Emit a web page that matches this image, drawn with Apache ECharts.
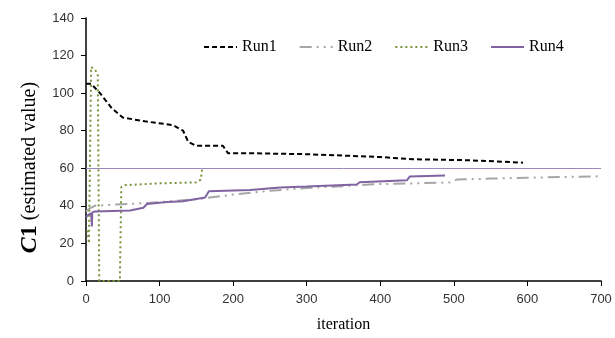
<!DOCTYPE html>
<html>
<head>
<meta charset="utf-8">
<script src="https://cdn.jsdelivr.net/npm/echarts@6/dist/echarts.min.js"></script>
<style>
  html, body { margin: 0; padding: 0; background: #fff; }
  #chart { width: 615px; height: 338px; }
</style>
</head>
<body>
<div id="chart"></div>
<script>
// [iteration, C1 estimate]
const run1 = [[0, 105], [7, 105], [19, 100], [35, 92], [50, 87], [80, 85], [118, 83], [132, 80], [139, 74], [150, 72], [186, 72], [193, 68], [223, 68], [300, 67.5], [400, 66], [444, 64.8], [520, 64.3], [594, 63]]
const run2 = [[0, 37], [5, 38.7], [12, 40], [30, 40.5], [60, 41], [100, 42], [150, 43.5], [200, 46], [250, 48], [300, 49.5], [350, 50.5], [390, 51.5], [450, 52], [495, 52.5], [504, 54], [550, 54.5], [600, 55], [696, 55.7]]
const run3 = [[2, 27], [4, 20], [6, 20], [7, 114], [9, 115], [13, 112], [16, 110], [18, 109], [18, 0], [46, 0], [48, 50], [53, 51], [100, 52], [150, 52.5], [156, 54], [158, 60]]
const run4 = [[0, 34], [4, 35.5], [7, 36], [8, 29], [8.5, 36.5], [12, 37], [60, 37.5], [78, 39], [83, 41], [110, 42], [132, 42.4], [162, 44.5], [167, 47.8], [223, 48.5], [264, 49.8], [300, 50.3], [368, 51.4], [372, 52.6], [436, 53.6], [440, 55.6], [488, 56.2]]
const refValue = 60
const seriesNames = ['Run1', 'Run2', 'Run3', 'Run4']

const chart = echarts.init(document.getElementById('chart'))
chart.setOption({
  animation: false,
  grid: { left: 86, right: 14, top: 18, bottom: 56 },
  legend: {
    data: seriesNames,
    left: 198,
    top: 34,
    itemWidth: 33,
    itemHeight: 10,
    itemGap: 22,
    itemStyle: { opacity: 0 },
    textStyle: { fontFamily: 'Liberation Serif', fontSize: 16, color: '#000' }
  },
  xAxis: {
    type: 'value',
    min: 0,
    max: 700,
    interval: 100,
    name: 'iteration',
    nameLocation: 'middle',
    nameGap: 36,
    nameTextStyle: { fontFamily: 'Liberation Serif', fontSize: 16, color: '#000' },
    axisLine: { lineStyle: { color: '#000', width: 1.5 } },
    axisTick: { length: 5, lineStyle: { color: '#000' } },
    axisLabel: { margin: 12, fontFamily: 'Liberation Sans', fontSize: 13, color: '#333' },
    splitLine: { show: false }
  },
  yAxis: {
    type: 'value',
    min: 0,
    max: 140,
    interval: 20,
    name: '{b|C}{c|1} (estimated value)',
    nameLocation: 'middle',
    nameGap: 39,
    nameTextStyle: {
      fontFamily: 'Liberation Serif', fontSize: 20, color: '#000',
      padding: [0, 36, 0, 0],
      rich: {
        b: { fontFamily: 'Liberation Serif', fontSize: 24, fontWeight: 'bold', fontStyle: 'italic', color: '#000' },
        c: { fontFamily: 'Liberation Serif', fontSize: 24, fontWeight: 'bold', color: '#000' }
      }
    },
    axisLine: { show: true, lineStyle: { color: '#000', width: 1.5 } },
    axisTick: { show: true, length: 5, lineStyle: { color: '#000' } },
    axisLabel: { margin: 12, fontFamily: 'Liberation Sans', fontSize: 13, color: '#333' },
    splitLine: { show: false }
  },
  series: [
    {
      name: 'Run1', type: 'line', data: run1, symbol: 'none',
      lineStyle: { color: '#000', width: 2, type: [5, 3] },
      itemStyle: { color: '#000' },
      markLine: {
        silent: true, symbol: 'none', label: { show: false },
        lineStyle: { color: '#9d88bd', width: 1, type: 'solid' },
        data: [{ yAxis: refValue }]
      }
    },
    {
      name: 'Run2', type: 'line', data: run2, symbol: 'none',
      lineStyle: { color: '#a6a6a6', width: 2, type: [12, 5, 2, 5, 2, 5] },
      itemStyle: { color: '#a6a6a6' }
    },
    {
      name: 'Run3', type: 'line', data: run3, symbol: 'none',
      lineStyle: { color: '#77933c', width: 2, type: [2, 3] },
      itemStyle: { color: '#77933c' }
    },
    {
      name: 'Run4', type: 'line', data: run4, symbol: 'none',
      lineStyle: { color: '#8064a2', width: 2, type: 'solid' },
      itemStyle: { color: '#8064a2' }
    }
  ]
})
</script>
</body>
</html>
